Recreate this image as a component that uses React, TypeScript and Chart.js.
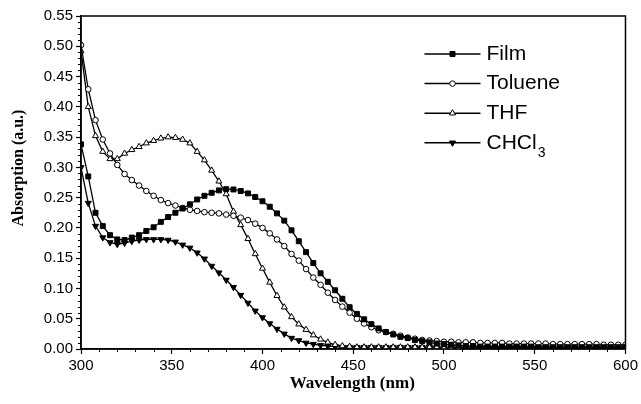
import React, { useEffect, useRef } from "react";
import { Chart, registerables } from "chart.js";

Chart.register(...registerables);

// ---------- data ----------
const wavelengths = [
  300, 304, 308, 312, 316, 320, 324, 328, 332, 336, 340, 344, 348, 352, 356, 360,
  364, 368, 372, 376, 380, 384, 388, 392, 396, 400, 404, 408, 412, 416, 420, 424,
  428, 432, 436, 440, 444, 448, 452, 456, 460, 464, 468, 472, 476, 480, 484, 488,
  492, 496, 500, 504, 508, 512, 516, 520, 524, 528, 532, 536, 540, 544, 548, 552,
  556, 560, 564, 568, 572, 576, 580, 584, 588, 592, 596, 600,
];

const film = [
  0.338, 0.285, 0.225, 0.203, 0.188, 0.181, 0.180, 0.184, 0.188, 0.195, 0.201, 0.210, 0.218, 0.225, 0.232, 0.239,
  0.247, 0.253, 0.258, 0.262, 0.264, 0.2635, 0.261, 0.257, 0.251, 0.244, 0.235, 0.224, 0.212, 0.196, 0.178, 0.160,
  0.142, 0.125, 0.111, 0.097, 0.083, 0.069, 0.058, 0.049, 0.041, 0.034, 0.028, 0.024, 0.020, 0.018, 0.015, 0.013,
  0.011, 0.009, 0.008, 0.007, 0.006, 0.005, 0.005, 0.004, 0.004, 0.004, 0.004, 0.004, 0.004, 0.004, 0.004, 0.003,
  0.003, 0.003, 0.003, 0.003, 0.003, 0.003, 0.003, 0.003, 0.003, 0.003, 0.003, 0.003,
];

const toluene = [
  0.502, 0.429, 0.378, 0.346, 0.323, 0.304, 0.289, 0.279, 0.270, 0.261, 0.253, 0.246, 0.241, 0.237, 0.233, 0.230,
  0.228, 0.226, 0.225, 0.224, 0.222, 0.220, 0.217, 0.213, 0.207, 0.200, 0.191, 0.181, 0.170, 0.157, 0.146, 0.132,
  0.118, 0.106, 0.093, 0.081, 0.070, 0.060, 0.050, 0.042, 0.036, 0.031, 0.028, 0.025, 0.022, 0.019, 0.017, 0.015,
  0.014, 0.013, 0.012, 0.012, 0.011, 0.011, 0.011, 0.010, 0.010, 0.010, 0.010, 0.009, 0.009, 0.009, 0.009, 0.009,
  0.009, 0.008, 0.008, 0.008, 0.008, 0.008, 0.008, 0.008, 0.007, 0.007, 0.007, 0.007,
];

const thf = [
  0.492, 0.400, 0.352, 0.326, 0.314, 0.314, 0.323, 0.329, 0.334, 0.340, 0.344, 0.348, 0.350, 0.349, 0.346, 0.340,
  0.326, 0.312, 0.295, 0.277, 0.256, 0.227, 0.205, 0.182, 0.157, 0.133, 0.110, 0.088, 0.069, 0.053, 0.041, 0.032,
  0.023, 0.016, 0.011, 0.007, 0.005, 0.004, 0.003, 0.003, 0.003, 0.003, 0.003, 0.003, 0.003, 0.003, 0.003, 0.003,
  0.003, 0.003, 0.002, 0.002, 0.002, 0.002, 0.002, 0.002, 0.002, 0.002, 0.002, 0.002, 0.002, 0.002, 0.002, 0.002,
  0.002, 0.002, 0.002, 0.002, 0.002, 0.002, 0.002, 0.002, 0.002, 0.002, 0.002, 0.002,
];

const chcl3 = [
  0.300, 0.241, 0.203, 0.184, 0.176, 0.173, 0.175, 0.178, 0.180, 0.181, 0.181, 0.181, 0.180, 0.177, 0.172, 0.167,
  0.159, 0.149, 0.137, 0.126, 0.114, 0.102, 0.089, 0.076, 0.063, 0.052, 0.042, 0.033, 0.025, 0.018, 0.014, 0.010,
  0.008, 0.006, 0.005, 0.004, 0.003, 0.003, 0.003, 0.003, 0.003, 0.003, 0.003, 0.003, 0.003, 0.003, 0.003, 0.003,
  0.003, 0.003, 0.003, 0.003, 0.003, 0.003, 0.003, 0.003, 0.003, 0.003, 0.003, 0.003, 0.003, 0.003, 0.003, 0.003,
  0.003, 0.003, 0.003, 0.003, 0.003, 0.003, 0.003, 0.003, 0.003, 0.003, 0.003, 0.003,
];

const seriesNames = ["Film", "Toluene", "THF", "CHCl3"];
const xMin = 300;
const xMax = 600;
const xMajorStep = 50;
const xMinorStep = 10;
const yMin = 0;
const yMax = 0.55;
const yMajorStep = 0.05;
const yMinorStep = 0.01;
const xTitle = "Wavelength (nm)";
const yTitle = "Absorption (a.u.)";

// ---------- styling ----------
const SANS = '"Liberation Sans", Arial, Helvetica, sans-serif';
const SERIF = '"Liberation Serif", "Times New Roman", serif';

type MarkerKind = "square" | "circle" | "triangle" | "downTriangle";
const markerKinds: MarkerKind[] = ["square", "circle", "triangle", "downTriangle"];
const markerFilled = [true, false, false, true];

function drawMarker(ctx: CanvasRenderingContext2D, kind: MarkerKind, x: number, y: number, filled: boolean) {
  ctx.save();
  ctx.beginPath();
  if (kind === "square") {
    ctx.rect(x - 2.5, y - 2.5, 5, 5);
  } else if (kind === "circle") {
    ctx.arc(x, y, 2.8, 0, Math.PI * 2);
  } else if (kind === "triangle") {
    const r = 3.5;
    ctx.moveTo(x, y - r);
    ctx.lineTo(x + r * 0.866, y + r * 0.5);
    ctx.lineTo(x - r * 0.866, y + r * 0.5);
    ctx.closePath();
  } else {
    const r = 3.5;
    ctx.moveTo(x, y + r);
    ctx.lineTo(x + r * 0.866, y - r * 0.5);
    ctx.lineTo(x - r * 0.866, y - r * 0.5);
    ctx.closePath();
  }
  ctx.fillStyle = filled ? "#000" : "#fff";
  ctx.fill();
  ctx.lineWidth = 1;
  ctx.strokeStyle = "#000";
  ctx.stroke();
  ctx.restore();
}

const decorPlugin = {
  id: "decor",
  afterDraw(chart: any) {
    const { ctx, chartArea: a, scales } = chart;
    const xs = scales.x;
    const ys = scales.y;
    ctx.save();

    // frame
    ctx.strokeStyle = "#000";
    ctx.lineWidth = 1.5;
    ctx.strokeRect(a.left, a.top, a.right - a.left, a.bottom - a.top);

    // minor ticks
    ctx.lineWidth = 1;
    ctx.beginPath();
    const nY = Math.round((yMax - yMin) / yMinorStep);
    const per = Math.round(yMajorStep / yMinorStep);
    for (let i = 0; i <= nY; i++) {
      if (i % per === 0) continue;
      const py = Math.round(ys.getPixelForValue(yMin + i * yMinorStep)) + 0.5;
      ctx.moveTo(a.left - 3, py);
      ctx.lineTo(a.left, py);
    }
    for (let w = xMin; w <= xMax; w += xMinorStep) {
      if ((w - xMin) % xMajorStep === 0) continue;
      const px = Math.round(xs.getPixelForValue(w)) + 0.5;
      ctx.moveTo(px, a.bottom);
      ctx.lineTo(px, a.bottom + 3);
    }
    ctx.stroke();

    // axis titles
    ctx.fillStyle = "#000";
    ctx.textAlign = "center";
    ctx.textBaseline = "middle";
    ctx.font = `bold 17px ${SERIF}`;
    ctx.fillText(xTitle, (a.left + a.right) / 2 - 1, 384);
    ctx.save();
    ctx.translate(19, a.top + 152);
    ctx.rotate(-Math.PI / 2);
    ctx.font = `bold 16px ${SERIF}`;
    ctx.fillText(yTitle, 0, 0);
    ctx.restore();

    // legend
    const x1 = a.right - 201;
    const x2 = a.right - 145;
    const y0 = a.top + 38;
    const gap = 29.6;
    chart.data.datasets.forEach((ds: any, i: number) => {
      const y = y0 + i * gap;
      ctx.strokeStyle = "#000";
      ctx.lineWidth = 1.5;
      ctx.beginPath();
      ctx.moveTo(x1, y);
      ctx.lineTo(x2, y);
      ctx.stroke();
      drawMarker(ctx, markerKinds[i], (x1 + x2) / 2, y, markerFilled[i]);
      ctx.fillStyle = "#000";
      ctx.textAlign = "left";
      ctx.textBaseline = "middle";
      ctx.font = `21px ${SANS}`;
      const label: string = ds.label;
      const m = label.match(/^(.*?)(\d+)$/);
      if (m) {
        ctx.fillText(m[1], x2 + 6, y);
        const w = ctx.measureText(m[1]).width;
        ctx.font = `14px ${SANS}`;
        ctx.fillText(m[2], x2 + 6 + w + 1, y + 10);
      } else {
        ctx.fillText(label, x2 + 6, y);
      }
    });
    ctx.restore();
  },
};

function toPoints(values: number[]) {
  return wavelengths.map((w, i) => ({ x: w, y: values[i] }));
}

export default function App() {
  const ref = useRef<HTMLCanvasElement | null>(null);

  useEffect(() => {
    document.body.style.margin = "0";
    const canvas = ref.current;
    if (!canvas) return;
    const series = [film, toluene, thf, chcl3];
    const styles = [
      { pointStyle: "rect", radius: 3.5, bg: "#000", rotation: 0 },
      { pointStyle: "circle", radius: 2.8, bg: "#fff", rotation: 0 },
      { pointStyle: "triangle", radius: 3.5, bg: "#fff", rotation: 0 },
      { pointStyle: "triangle", radius: 3.5, bg: "#000", rotation: 180 },
    ];
    const chart = new Chart(canvas, {
      type: "line",
      data: {
        datasets: series.map((vals, i) => ({
          label: seriesNames[i],
          data: toPoints(vals),
          borderColor: "#000",
          borderWidth: 1.3,
          backgroundColor: styles[i].bg,
          pointStyle: styles[i].pointStyle as any,
          pointRadius: styles[i].radius,
          pointRotation: styles[i].rotation,
          pointBorderColor: "#000",
          pointBorderWidth: 1,
          pointBackgroundColor: styles[i].bg,
          fill: false,
          tension: 0,
        })),
      },
      options: {
        animation: false,
        responsive: false,
        maintainAspectRatio: false,
        events: [],
        layout: { padding: { top: 16, right: 13, left: 0, bottom: 0 } },
        plugins: {
          legend: { display: false },
          tooltip: { enabled: false },
          title: { display: false },
        },
        scales: {
          x: {
            type: "linear",
            min: xMin,
            max: xMax,
            afterFit: (s: any) => {
              s.height = 55;
            },
            ticks: {
              stepSize: xMajorStep,
              color: "#000",
              font: { family: SANS, size: 15 },
              padding: 3,
              maxRotation: 0,
              autoSkip: false,
            },
            grid: {
              drawOnChartArea: false,
              drawTicks: true,
              tickLength: 5,
              tickColor: "#000",
              tickWidth: 1.2,
            },
            border: { color: "#000", width: 1.5 },
          },
          y: {
            type: "linear",
            min: yMin,
            max: yMax,
            afterFit: (s: any) => {
              s.width = 81;
            },
            ticks: {
              stepSize: yMajorStep,
              color: "#000",
              font: { family: SANS, size: 15 },
              padding: 3,
              callback: (v: any) => Number(v).toFixed(2),
            },
            grid: {
              drawOnChartArea: false,
              drawTicks: true,
              tickLength: 5,
              tickColor: "#000",
              tickWidth: 1.2,
            },
            border: { color: "#000", width: 1.5 },
          },
        },
      },
      plugins: [decorPlugin],
    });
    return () => chart.destroy();
  }, []);

  return (
    <div style={{ width: 641, height: 404, background: "#fff" }}>
      <canvas ref={ref} width={641} height={404} style={{ display: "block", width: 641, height: 404 }} />
    </div>
  );
}
